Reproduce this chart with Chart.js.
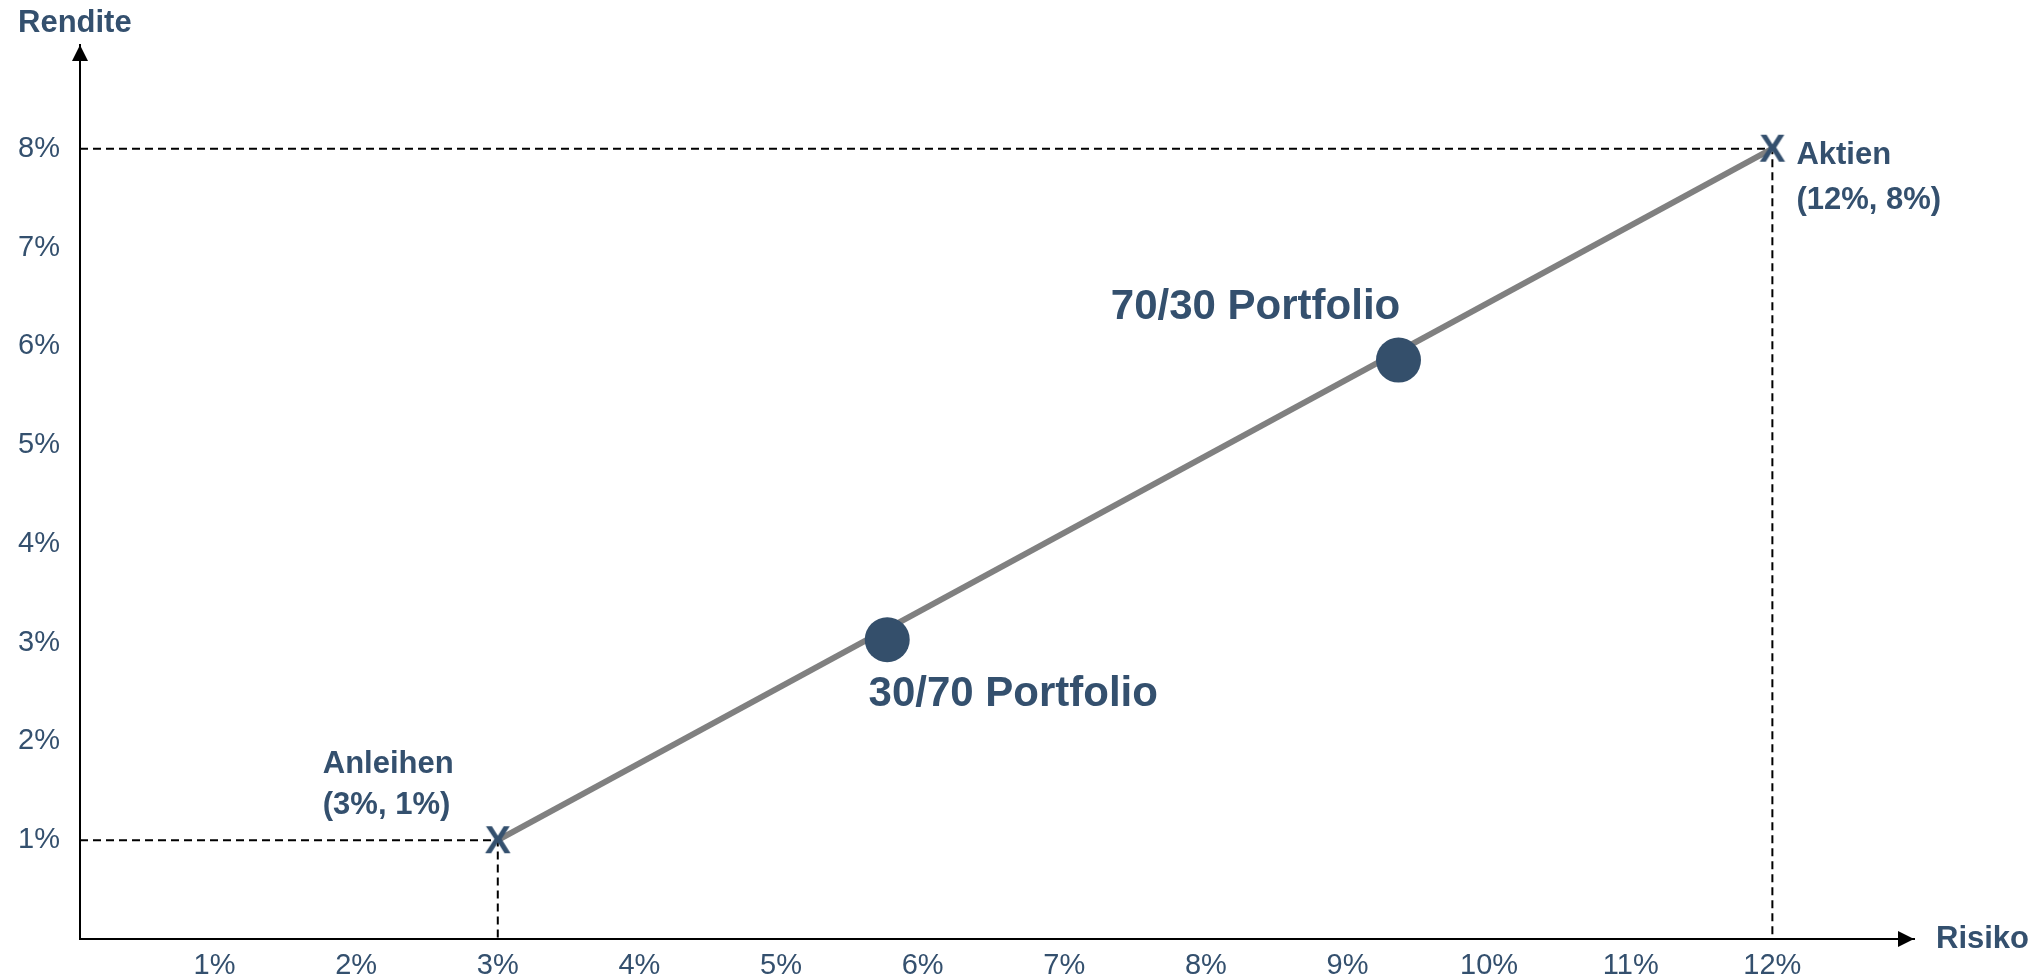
<!DOCTYPE html>
<html>
<head>
<meta charset="utf-8">
<script src="https://cdn.jsdelivr.net/npm/chart.js@4/dist/chart.umd.min.js"></script>
<style>
  body { margin: 0; background: #fff; }
</style>
</head>
<body>
<canvas id="graph" width="2044" height="977"></canvas>
<script>
// Anlagen: Risiko (x) und Rendite (y) in Prozent
var anlagen = ['Anleihen', 'Aktien'];
var anlagenRisiko = [3, 12];
var anlagenRendite = [1, 8];
var anlagenText = ['(3%, 1%)', '(12%, 8%)'];

// Portfolios
var portfolios = ['30/70 Portfolio', '70/30 Portfolio'];
var portfolioRisiko = [5.75, 9.36];
var portfolioRendite = [3.03, 5.86];

// Achsen
var xTicks = [1, 2, 3, 4, 5, 6, 7, 8, 9, 10, 11, 12];
var xTickLabels = ['1%', '2%', '3%', '4%', '5%', '6%', '7%', '8%', '9%', '10%', '11%', '12%'];
var yTicks = [1, 2, 3, 4, 5, 6, 7, 8];
var yTickLabels = ['1%', '2%', '3%', '4%', '5%', '6%', '7%', '8%'];

var blau = '#34506e';
var schrift = '"Liberation Sans", Arial, sans-serif';
var xMin = 0.05, xMax = 13, yMin = 0, yMax = 9.05;

// X-Markierung als Punktstil
var kreuz = document.createElement('canvas');
kreuz.width = 40; kreuz.height = 40;
(function () {
  var c = kreuz.getContext('2d');
  c.fillStyle = blau;
  c.font = 'bold 39px ' + schrift;
  c.textAlign = 'center';
  c.textBaseline = 'middle';
  c.fillText('X', 20, 22);
})();

var punkte = function (xs, ys) {
  return xs.map(function (x, i) { return { x: x, y: ys[i] }; });
};

// Hilfslinien (gestrichelt) zu den Achsen
var hilfslinien = [];
anlagenRisiko.forEach(function (x, i) {
  var y = anlagenRendite[i];
  hilfslinien.push({
    type: 'scatter',
    data: [{ x: xMin, y: y }, { x: x, y: y }, { x: x, y: yMin }],
    showLine: true,
    borderColor: '#000',
    borderWidth: 2,
    borderDash: [8, 5],
    pointRadius: 0,
    order: 4
  });
});

// Beschriftungen und Pfeile
var beschriftung = {
  id: 'beschriftung',
  afterDraw: function (chart) {
    var ctx = chart.ctx, a = chart.chartArea;
    var sx = chart.scales.x, sy = chart.scales.y;
    ctx.save();

    // Pfeilspitzen
    ctx.fillStyle = '#000';
    ctx.beginPath();
    ctx.moveTo(a.left, a.top);
    ctx.lineTo(a.left - 8, a.top + 16);
    ctx.lineTo(a.left + 8, a.top + 16);
    ctx.closePath();
    ctx.fill();
    ctx.beginPath();
    ctx.moveTo(a.right, a.bottom);
    ctx.lineTo(a.right - 16, a.bottom - 8);
    ctx.lineTo(a.right - 16, a.bottom + 8);
    ctx.closePath();
    ctx.fill();

    ctx.fillStyle = blau;
    ctx.font = 'bold 31px ' + schrift;
    ctx.textBaseline = 'alphabetic';
    ctx.textAlign = 'left';
    ctx.fillText('Rendite', 18, 32);
    ctx.textBaseline = 'middle';
    ctx.fillText('Risiko', a.right + 22, a.bottom);

    // Anlagen
    var versatz = [[-175, -67, -26], [24, 15, 60]];
    ctx.textBaseline = 'alphabetic';
    anlagen.forEach(function (name, i) {
      var px = sx.getPixelForValue(anlagenRisiko[i]);
      var py = sy.getPixelForValue(anlagenRendite[i]);
      var v = versatz[i];
      ctx.fillText(name, px + v[0], py + v[1]);
      ctx.fillText(anlagenText[i], px + v[0], py + v[2]);
    });

    // Portfolios
    var pv = [[126, 66], [-143, -41]];
    ctx.font = 'bold 42px ' + schrift;
    ctx.textAlign = 'center';
    portfolios.forEach(function (name, i) {
      var px = sx.getPixelForValue(portfolioRisiko[i]);
      var py = sy.getPixelForValue(portfolioRendite[i]);
      ctx.fillText(name, px + pv[i][0], py + pv[i][1]);
    });
    ctx.restore();
  }
};

window.onload = function () {
  var ctx = document.getElementById('graph').getContext('2d');
  var datasets = hilfslinien.concat([
    {
      // Verbindungslinie Anleihen - Aktien
      type: 'scatter',
      data: punkte(anlagenRisiko, anlagenRendite),
      showLine: true,
      borderColor: '#808080',
      borderWidth: 6,
      pointRadius: 0,
      order: 3
    },
    {
      type: 'scatter',
      data: punkte(anlagenRisiko, anlagenRendite),
      pointStyle: kreuz,
      pointRadius: 20,
      order: 2
    },
    {
      type: 'scatter',
      data: punkte(portfolioRisiko, portfolioRendite),
      backgroundColor: '#344f6b',
      borderWidth: 0,
      pointRadius: 22.5,
      pointHoverRadius: 22.5,
      order: 1
    }
  ]);

  var config = {
    type: 'scatter',
    data: { datasets: datasets },
    plugins: [beschriftung],
    options: {
      responsive: false,
      animation: false,
      events: [],
      layout: { padding: { top: 45, right: 130, left: 0, bottom: 0 } },
      plugins: { legend: { display: false }, tooltip: { enabled: false } },
      scales: {
        x: {
          type: 'linear',
          min: xMin, max: xMax,
          grid: { display: false, drawTicks: false },
          border: { display: true, color: '#000', width: 2 },
          afterFit: function (s) { s.height = 38; },
          afterBuildTicks: function (s) {
            s.ticks = xTicks.map(function (v) { return { value: v }; });
          },
          ticks: {
            padding: 10,
            maxRotation: 0,
            autoSkip: false,
            color: blau,
            font: { family: schrift, size: 29 },
            callback: function (v) { return xTickLabels[xTicks.indexOf(v)]; }
          }
        },
        y: {
          type: 'linear',
          min: yMin, max: yMax,
          grid: { display: false, drawTicks: false },
          border: { display: true, color: '#000', width: 2 },
          afterFit: function (s) { s.width = 80; },
          afterBuildTicks: function (s) {
            s.ticks = yTicks.map(function (v) { return { value: v }; });
          },
          ticks: {
            padding: 20,
            autoSkip: false,
            color: blau,
            font: { family: schrift, size: 29 },
            callback: function (v) { return yTickLabels[yTicks.indexOf(v)]; }
          }
        }
      }
    }
  };
  new Chart(ctx, config);
};
</script>
</body>
</html>
